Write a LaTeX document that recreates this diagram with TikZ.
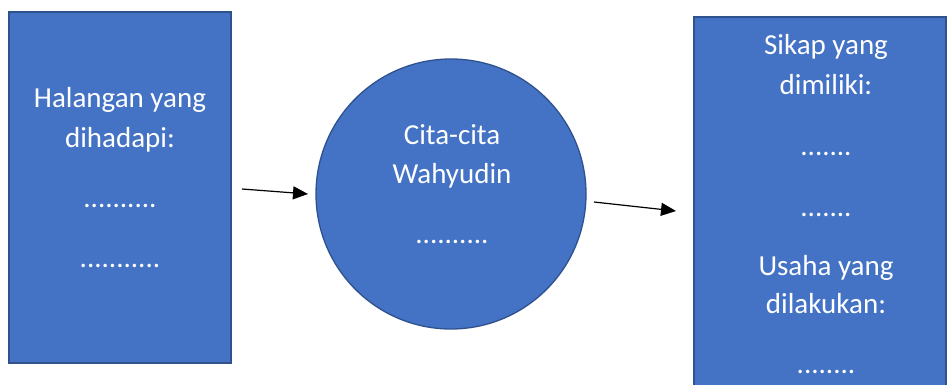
\documentclass[tikz,border=0pt]{standalone}
\usepackage{fontspec}
\setmainfont{Carlito}
\usepackage{tikz}
\usetikzlibrary{arrows.meta}
\definecolor{boxfill}{HTML}{4472C4}
\definecolor{boxline}{HTML}{2F528F}
\tikzset{shapebox/.style={fill=boxfill, draw=boxline, line width=1.3pt},
  label/.style={white, anchor=base, inner sep=0pt, font=\fontsize{29}{34}\selectfont},
  link/.style={-{Triangle[length=15pt, width=13pt]}, line width=1.2pt, black}}

\begin{document}
\begin{tikzpicture}[x=1pt, y=-1pt]
\clip (0, 0) rectangle (950, 385);
\fill[white] (0, 0) rectangle (950, 385);
 \draw[shapebox] (9, 12) rectangle (231, 363);
 \draw[shapebox] (451, 194) circle [radius = 135];
 \draw[shapebox] (694, 17) rectangle (946, 400);
   \node[label] (hal1) at (120, 108) {Halangan yang};
   \node[label] (hal2) at (120, 147) {dihadapi:};
   \node[label] (hal3) at (120, 207) {..........};
   \node[label] (hal4) at (120, 267) {...........};
   \node[label] (cit1) at (452, 144) {Cita-cita};
   \node[label] (cit2) at (452, 183) {Wahyudin};
   \node[label] (cit3) at (452, 243) {..........};
   \node[label] (sik1) at (826, 55) {Sikap yang};
   \node[label] (sik2) at (826, 95) {dimiliki:};
   \node[label] (sik3) at (826, 156) {.......};
   \node[label] (sik4) at (826, 216) {.......};
   \node[label] (usa1) at (826, 275) {Usaha yang};
   \node[label] (usa2) at (826, 313) {dilakukan:};
   \node[label] (usa3) at (826, 373) {........};
 \coordinate (a1) at (242, 189);
 \coordinate (a2) at (308, 194);
 \coordinate (b1) at (594, 202);
 \coordinate (b2) at (676, 211);
   \draw[link] (a1) -- (a2);
   \draw[link] (b1) -- (b2);
\end{tikzpicture}
\end{document}
